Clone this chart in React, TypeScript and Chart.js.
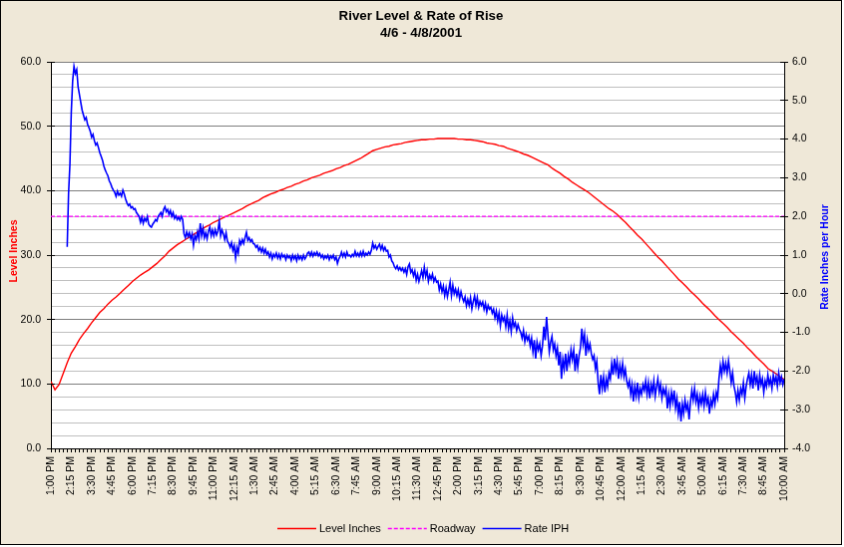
import React, { useEffect, useRef } from 'react';
import { Chart, registerables } from 'chart.js';

Chart.register(...registerables);

const FONT = "'Liberation Sans', Arial, sans-serif";
const BG = '#EFE8D8';

const TITLE_LINES = ['River Level & Rate of Rise', '4/6 - 4/8/2001'];
const LEVEL_AXIS_TITLE = 'Level Inches';
const RATE_AXIS_TITLE = 'Rate Inches per Hour';

// category labels every 75 minutes, starting 1:00 PM 4/6
const X_TICK_LABELS = [
  '1:00 PM', '2:15 PM', '3:30 PM', '4:45 PM', '6:00 PM', '7:15 PM', '8:30 PM', '9:45 PM', '11:00 PM',
  '12:15 AM', '1:30 AM', '2:45 AM', '4:00 AM', '5:15 AM', '6:30 AM', '7:45 AM', '9:00 AM', '10:15 AM', '11:30 AM',
  '12:45 PM', '2:00 PM', '3:15 PM', '4:30 PM', '5:45 PM', '7:00 PM', '8:15 PM', '9:30 PM', '10:45 PM',
  '12:00 AM', '1:15 AM', '2:30 AM', '3:45 AM', '5:00 AM', '6:15 AM', '7:30 AM', '8:45 AM', '10:00 AM',
];
const LABEL_STEP_MIN = 75;
const TICK_STEP_MIN = 15;

// River level (inches), every 15 minutes from 1:00 PM
const LEVEL_START_MIN = 0;
const LEVEL_STEP_MIN = 15;
const levelInches = [
  10.4, 9.1, 9.9, 11.6, 13.3, 14.8, 15.8, 16.9, 17.8, 18.6, 19.5, 20.3,
  21.1, 21.7, 22.4, 23.0, 23.5, 24.1, 24.7, 25.3, 25.9, 26.4, 26.9, 27.3,
  27.7, 28.2, 28.7, 29.3, 29.9, 30.6, 31.1, 31.6, 32.0, 32.4, 32.8, 33.2,
  33.6, 34.0, 34.4, 34.7, 35.1, 35.4, 35.7, 36.0, 36.3, 36.6, 36.9, 37.2,
  37.6, 37.9, 38.2, 38.5, 38.9, 39.2, 39.5, 39.7, 40.0, 40.2, 40.5, 40.7,
  41.0, 41.2, 41.5, 41.7, 42.0, 42.2, 42.4, 42.7, 42.9, 43.1, 43.4, 43.6,
  43.9, 44.1, 44.4, 44.7, 45.0, 45.4, 45.8, 46.2, 46.4, 46.6, 46.8, 46.9,
  47.1, 47.2, 47.3, 47.5, 47.6, 47.7, 47.8, 47.9, 47.9, 48.0, 48.0, 48.1,
  48.1, 48.1, 48.1, 48.1, 48.0, 48.0, 47.9, 47.9, 47.8, 47.7, 47.6, 47.4,
  47.3, 47.2, 47.0, 46.9, 46.6, 46.4, 46.2, 46.0, 45.7, 45.5, 45.2, 44.9,
  44.6, 44.3, 44.0, 43.5, 43.1, 42.7, 42.2, 41.8, 41.3, 40.9, 40.5, 40.1,
  39.7, 39.2, 38.7, 38.2, 37.7, 37.2, 36.8, 36.3, 35.7, 35.1, 34.4, 33.8,
  33.1, 32.5, 31.8, 31.1, 30.4, 29.7, 29.1, 28.4, 27.7, 27.0, 26.3, 25.7,
  25.1, 24.4, 23.8, 23.2, 22.5, 21.9, 21.3, 20.6, 20.0, 19.4, 18.8, 18.1,
  17.5, 16.9, 16.3, 15.6, 15.0, 14.3, 13.7, 13.1, 12.4, 12.0, 11.6, 11.1,
  10.7,
];

// Roadway level (inches)
const ROADWAY_INCHES = 36.0;

// Rate of rise (inches per hour), every 5 minutes from 2:00 PM
const RATE_START_MIN = 60;
const RATE_STEP_MIN = 5;
const rateIPH = [
  1.21, 2.6, 3.35, 4.7, 5.5, 5.88, 5.7, 5.8, 5.35, 5.15, 4.95, 4.75,
  4.62, 4.5, 4.56, 4.38, 4.3, 4.2, 4.05, 4.12, 3.96, 3.85, 3.9, 3.78,
  3.65, 3.55, 3.45, 3.3, 3.2, 3.12, 3.05, 2.92, 2.85, 2.75, 2.68, 2.62,
  2.52, 2.65, 2.55, 2.6, 2.52, 2.68, 2.58, 2.45, 2.35, 2.28, 2.32, 2.22,
  2.25, 2.18, 2.2, 2.1, 2.05, 2.0, 1.85, 1.98, 1.82, 1.95, 1.88, 2.0,
  1.8, 1.75, 1.72, 1.8, 1.85, 1.92, 1.88, 2.0, 2.05, 2.1, 2.0, 2.18,
  2.25, 2.12, 2.18, 2.05, 2.15, 2.0, 2.1, 1.95, 2.02, 1.92, 1.98, 1.9,
  2.0, 1.92, 1.55, 1.45, 1.6, 1.48, 1.58, 1.42, 1.55, 1.25, 1.5, 1.4,
  1.6, 1.42, 1.82, 1.5, 1.7, 1.45, 1.58, 1.42, 1.62, 1.72, 1.5, 1.65,
  1.5, 1.66, 1.52, 1.62, 1.88, 1.5, 1.65, 1.55, 1.4, 1.58, 1.36, 1.3,
  1.2, 1.32, 1.12, 1.25, 0.92, 1.2, 1.05, 1.38, 1.28, 1.4, 1.3, 1.45,
  1.59, 1.38, 1.45, 1.35, 1.4, 1.3, 1.28, 1.2, 1.25, 1.12, 1.2, 1.08,
  1.18, 1.05, 1.15, 1.02, 1.08, 0.95, 1.05, 0.9, 1.02, 0.95, 1.05, 0.92,
  1.02, 0.9, 1.03, 0.95, 1.0, 0.88, 1.0, 0.93, 0.98, 0.86, 1.0, 0.9,
  0.98, 0.85, 1.0, 0.9, 0.97, 0.88, 1.0, 0.9, 0.96, 1.05, 1.08, 0.98,
  1.08, 0.97, 1.06, 1.0, 1.08, 0.98, 1.04, 0.94, 1.0, 0.9, 0.98, 0.92,
  1.0, 0.88, 0.98, 0.92, 1.0, 0.88, 0.95, 0.78, 0.9, 0.97, 1.08, 0.96,
  1.05, 0.95, 1.08, 0.98, 1.0, 0.95, 1.02, 0.97, 1.1, 0.98, 1.05, 0.97,
  1.08, 0.98, 1.1, 0.98, 1.05, 1.0, 1.08, 1.02, 1.12, 1.31, 1.18, 1.25,
  1.15, 1.22, 1.28, 1.15, 1.25, 1.12, 1.2, 1.1, 1.12, 0.95, 1.0, 0.85,
  0.8, 0.7, 0.65, 0.72, 0.62, 0.68, 0.6, 0.66, 0.56, 0.65, 0.5, 0.7,
  0.77, 0.55, 0.62, 0.46, 0.59, 0.35, 0.5, 0.32, 0.45, 0.6, 0.42, 0.69,
  0.45, 0.6, 0.32, 0.48, 0.38, 0.51, 0.32, 0.42, 0.3, 0.33, 0.1, 0.25,
  0.05, 0.2, -0.05, 0.15, -0.08, 0.1, 0.3, -0.05, 0.22, 0.0, 0.12, -0.05,
  0.1, -0.13, 0.05, -0.1, -0.2, -0.08, -0.31, -0.15, -0.3, -0.1, -0.39, -0.2,
  -0.05, -0.3, -0.1, -0.35, -0.2, -0.3, -0.21, -0.4, -0.25, -0.47, -0.3, -0.4,
  -0.35, -0.5, -0.4, -0.62, -0.45, -0.7, -0.5, -0.83, -0.55, -0.7, -0.6, -0.85,
  -0.55, -0.9, -0.7, -0.98, -0.62, -0.85, -0.75, -0.95, -0.8, -0.92, -1.0, -1.15,
  -0.95, -1.24, -1.05, -1.2, -1.1, -1.35, -1.15, -1.5, -1.2, -1.68, -1.25, -1.45,
  -1.3, -1.6, -1.35, -0.85, -1.2, -0.6, -1.05, -1.5, -1.25, -1.1, -1.45, -1.3,
  -1.6, -1.4, -1.85, -1.5, -2.2, -1.7, -1.95, -1.55, -2.0, -1.6, -1.8, -1.45,
  -1.7, -1.45, -2.0, -1.55, -1.9, -1.6, -1.4, -0.9, -1.3, -1.05, -1.6, -1.2,
  -1.45, -1.3, -1.55, -1.7, -1.6, -1.94, -1.75, -2.3, -2.6, -2.1, -2.45, -2.15,
  -2.55, -2.2, -2.4, -2.05, -2.2, -1.8, -2.1, -1.68, -2.0, -1.75, -2.2, -1.85,
  -2.1, -1.8, -2.15, -1.95, -2.25, -2.4, -2.25, -2.6, -2.35, -2.79, -2.4, -2.65,
  -2.3, -2.7, -2.45, -2.6, -2.35, -2.5, -2.25, -2.6, -2.3, -2.7, -2.35, -2.55,
  -2.25, -2.65, -2.4, -2.2, -2.55, -2.35, -2.7, -2.45, -2.6, -2.45, -2.97, -2.6,
  -2.9, -2.55, -2.8, -2.5, -2.95, -2.7, -3.1, -2.8, -3.3, -2.85, -3.1, -2.75,
  -3.0, -2.85, -3.25, -2.8, -2.5, -2.75, -2.45, -2.8, -2.6, -2.95, -2.65, -2.85,
  -2.6, -2.9, -2.55, -2.85, -2.7, -3.1, -2.75, -2.9, -2.6, -2.85, -2.55, -2.7,
  -2.2, -1.85, -2.1, -1.75, -2.0, -1.8, -2.05, -1.73, -2.0, -2.3, -2.05, -2.38,
  -2.55, -2.8, -2.5, -2.75, -2.45, -2.6, -2.3, -2.7, -2.4, -2.2, -2.05, -2.35,
  -2.1, -2.45, -2.0, -2.3, -2.15, -2.5, -2.1, -2.35, -2.2, -2.55, -2.25, -2.4,
  -2.1, -2.35, -2.2, -2.45, -2.1, -2.3, -2.15, -2.4, -2.05, -2.3, -2.15, -2.35,
  -2.2,
];

const LEVEL_MIN = 0, LEVEL_MAX = 60, LEVEL_MINOR = 2, LEVEL_MAJOR = 10;
const RATE_MIN = -4, RATE_MAX = 6, RATE_STEP = 1;
const X_MAX_MIN = (X_TICK_LABELS.length - 1) * LABEL_STEP_MIN;

function range(a: number, b: number, step: number) {
  const out: number[] = [];
  for (let v = a; v <= b + 1e-9; v += step) out.push(Math.round(v * 1000) / 1000);
  return out;
}

const align = (p: number) => Math.round(p - 0.5) + 0.5;

const decorPlugin = {
  id: 'decor',
  beforeDraw(chart: any) {
    const { ctx, width, height, chartArea: a } = chart;
    ctx.save();
    ctx.fillStyle = BG;
    ctx.fillRect(0, 0, width, height);
    ctx.fillStyle = '#FFFFFF';
    ctx.fillRect(a.left, a.top, a.right - a.left, a.bottom - a.top);
    ctx.restore();
  },
  afterDraw(chart: any) {
    const { ctx, width, chartArea: a } = chart;
    const yL = chart.scales.yLevel;
    const yR = chart.scales.yRate;
    ctx.save();
    // inner tick marks
    ctx.strokeStyle = '#000';
    ctx.lineWidth = 1;
    ctx.beginPath();
    yL.ticks.forEach((t: any) => {
      if (t.value % LEVEL_MAJOR === 0) {
        const y = align(yL.getPixelForValue(t.value));
        ctx.moveTo(a.left, y);
        ctx.lineTo(a.left + 4, y);
      }
    });
    yR.ticks.forEach((t: any) => {
      const y = align(yR.getPixelForValue(t.value));
      ctx.moveTo(a.right - 4, y);
      ctx.lineTo(a.right, y);
    });
    ctx.stroke();

    // title
    ctx.fillStyle = '#000';
    ctx.textAlign = 'center';
    ctx.textBaseline = 'middle';
    ctx.font = `bold 13.3px ${FONT}`;
    TITLE_LINES.forEach((line, i) => ctx.fillText(line, width / 2, 15.5 + i * 17));

    // axis titles
    const midY = (a.top + a.bottom) / 2;
    ctx.font = `bold 10.5px ${FONT}`;
    ctx.save();
    ctx.translate(13.5, midY - 4);
    ctx.rotate(-Math.PI / 2);
    ctx.fillStyle = '#FF0000';
    ctx.fillText(LEVEL_AXIS_TITLE, 0, 0);
    ctx.restore();
    ctx.save();
    ctx.translate(826, midY + 2);
    ctx.rotate(-Math.PI / 2);
    ctx.fillStyle = '#0000FF';
    ctx.fillText(RATE_AXIS_TITLE, 0, 0);
    ctx.restore();

    // legend
    ctx.font = `11px ${FONT}`;
    ctx.textAlign = 'left';
    const lineLen = 39, gapText = 3, gapItem = 7;
    const items = chart.data.datasets.map((ds: any) => ({
      label: ds.label, color: ds.borderColor, dash: ds.borderDash || [],
      w: lineLen + gapText + ctx.measureText(ds.label).width,
    }));
    const total = items.reduce((s: number, it: any) => s + it.w, 0) + gapItem * (items.length - 1);
    let x = Math.round(width / 2 - total / 2) + 2;
    const ly = 529.5;
    items.forEach((it: any) => {
      ctx.beginPath();
      ctx.setLineDash(it.dash);
      ctx.strokeStyle = it.color;
      ctx.lineWidth = 1.3;
      ctx.moveTo(x, ly);
      ctx.lineTo(x + lineLen, ly);
      ctx.stroke();
      ctx.setLineDash([]);
      ctx.fillStyle = '#000';
      ctx.fillText(it.label, x + lineLen + gapText, ly);
      x += it.w + gapItem;
    });
    ctx.restore();
  },
};

export default function App() {
  const ref = useRef<HTMLCanvasElement | null>(null);

  useEffect(() => {
    if (!ref.current) return;
    const levelPoints = levelInches.map((v, i) => ({ x: LEVEL_START_MIN + i * LEVEL_STEP_MIN, y: v }));
    const roadwayPoints = levelPoints.map((p) => ({ x: p.x, y: ROADWAY_INCHES }));
    const ratePoints = rateIPH.map((v, i) => ({ x: RATE_START_MIN + i * RATE_STEP_MIN, y: v }));

    const xTicks = range(0, X_MAX_MIN, TICK_STEP_MIN);
    const levelTicks = range(LEVEL_MIN, LEVEL_MAX, LEVEL_MINOR);
    const rateTicks = range(RATE_MIN, RATE_MAX, RATE_STEP);
    const tickFont = { family: FONT, size: 10.5 };

    const chart = new Chart(ref.current, {
      type: 'line',
      data: {
        datasets: [
          { label: 'Level Inches', data: levelPoints, yAxisID: 'yLevel', borderColor: '#FF0000', borderWidth: 1.4, pointRadius: 0, tension: 0, order: 2 },
          { label: 'Roadway', data: roadwayPoints, yAxisID: 'yLevel', borderColor: '#FF00FF', borderWidth: 1.2, borderDash: [4, 2], pointRadius: 0, tension: 0, order: 1 },
          { label: 'Rate IPH', data: ratePoints, yAxisID: 'yRate', borderColor: '#0000FF', borderWidth: 1.6, pointRadius: 0, tension: 0, order: 0 },
        ],
      } as any,
      options: {
        responsive: false,
        animation: false,
        devicePixelRatio: 1,
        events: [],
        layout: { padding: { top: 61, left: 0, right: 0, bottom: 0 } },
        plugins: { legend: { display: false }, title: { display: false }, tooltip: { enabled: false } },
        scales: {
          x: {
            type: 'linear',
            position: 'bottom',
            min: 0,
            max: X_MAX_MIN,
            afterBuildTicks: (s: any) => { s.ticks = xTicks.map((v) => ({ value: v })); },
            afterFit: (s: any) => { s.height = 96; },
            ticks: {
              autoSkip: false,
              minRotation: 90,
              maxRotation: 90,
              padding: 4,
              color: '#000',
              font: tickFont,
              callback: (v: any) => (v % LABEL_STEP_MIN === 0 ? X_TICK_LABELS[Math.round(v / LABEL_STEP_MIN)] : ''),
            },
            grid: { drawOnChartArea: false, drawTicks: true, tickLength: 4, tickColor: '#000' },
            border: { display: true, color: '#000', width: 1 },
          },
          yLevel: {
            type: 'linear',
            position: 'left',
            min: LEVEL_MIN,
            max: LEVEL_MAX,
            afterBuildTicks: (s: any) => { s.ticks = levelTicks.map((v) => ({ value: v })); },
            afterFit: (s: any) => { s.width = 50; },
            ticks: {
              autoSkip: false,
              padding: 6,
              color: '#000',
              font: tickFont,
              callback: (v: any) => (v % LEVEL_MAJOR === 0 ? Number(v).toFixed(1) : ''),
            },
            grid: {
              color: (c: any) => (c.tick && c.tick.value === LEVEL_MIN ? '#000' : c.tick && c.tick.value % LEVEL_MAJOR === 0 ? '#808080' : '#C0C0C0'),
              tickColor: (c: any) => (c.tick && c.tick.value % LEVEL_MAJOR === 0 ? '#000' : 'rgba(0,0,0,0)'),
              tickLength: 4,
              lineWidth: 1,
            },
            border: { display: true, color: '#000', width: 1 },
          },
          yRate: {
            type: 'linear',
            position: 'right',
            min: RATE_MIN,
            max: RATE_MAX,
            afterBuildTicks: (s: any) => { s.ticks = rateTicks.map((v) => ({ value: v })); },
            afterFit: (s: any) => { s.width = 57; },
            ticks: {
              autoSkip: false,
              padding: 4,
              color: '#000',
              font: tickFont,
              callback: (v: any) => Number(v).toFixed(1),
            },
            grid: { drawOnChartArea: false, tickLength: 4, tickColor: '#000' },
            border: { display: true, color: '#000', width: 1 },
          },
        },
      } as any,
      plugins: [decorPlugin],
    });
    return () => chart.destroy();
  }, []);

  return (
    <div style={{ position: 'absolute', left: 0, top: 0, width: 844, height: 547 }}>
      <canvas ref={ref} width={842} height={545} style={{ display: 'block', border: '1px solid #000' }} />
    </div>
  );
}
